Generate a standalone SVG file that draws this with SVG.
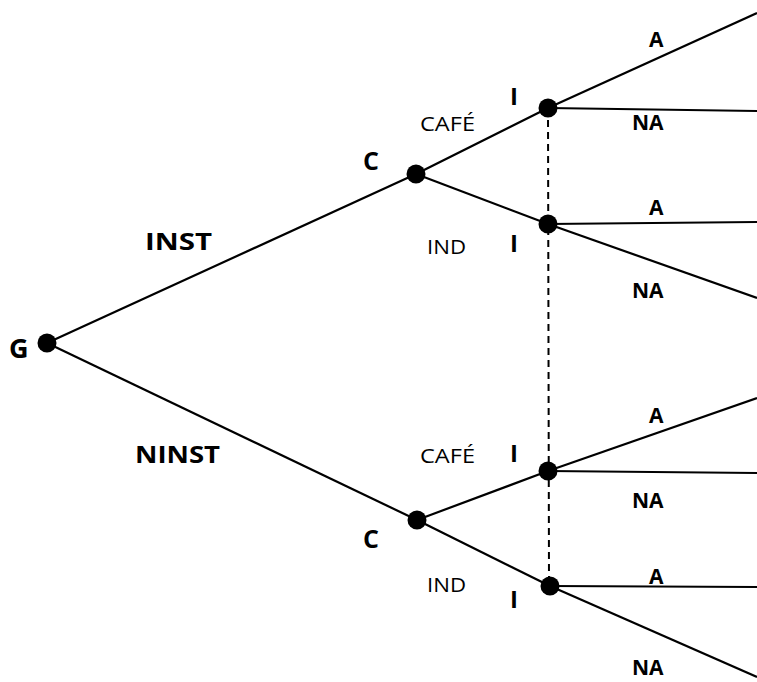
<svg xmlns="http://www.w3.org/2000/svg" width="757" height="682" viewBox="0 0 757 682">
<style>
.e{stroke:#000;stroke-width:2.2;fill:none}
.d{stroke:#000;stroke-width:2;stroke-dasharray:7,5;fill:none}
.n{fill:#000}
.b{font-family:"Open Sans","Liberation Sans",sans-serif;font-weight:bold;fill:#000}
.r{font-family:"Open Sans","Liberation Sans",sans-serif;fill:#000}
</style>
<rect width="757" height="682" fill="#fff"/>
<g id="connectors">
<line class="d" x1="548" y1="108" x2="549" y2="586"/>
<line class="e" x1="47" y1="343" x2="416" y2="174"/>
<line class="e" x1="47" y1="343" x2="417" y2="520"/>
<line class="e" x1="416" y1="174" x2="548" y2="108"/>
<line class="e" x1="416" y1="174" x2="548" y2="224"/>
<line class="e" x1="417" y1="520" x2="548" y2="471"/>
<line class="e" x1="417" y1="520" x2="550" y2="586"/>
<line class="e" x1="548" y1="108" x2="757" y2="13"/>
<line class="e" x1="548" y1="108" x2="757" y2="111"/>
<line class="e" x1="548" y1="224" x2="757" y2="222"/>
<line class="e" x1="548" y1="224" x2="757" y2="298"/>
<line class="e" x1="548" y1="471" x2="757" y2="398"/>
<line class="e" x1="548" y1="471" x2="757" y2="473"/>
<line class="e" x1="550" y1="586" x2="757" y2="587"/>
<line class="e" x1="550" y1="586" x2="757" y2="677"/>
</g>
<g id="edge-labels">
<text class="b" x="145" y="250" font-size="24" textLength="67" lengthAdjust="spacingAndGlyphs">INST</text>
<text class="b" x="135" y="463" font-size="24" textLength="85" lengthAdjust="spacingAndGlyphs">NINST</text>
<text class="r" x="420" y="131" font-size="19.5" textLength="55" lengthAdjust="spacingAndGlyphs">CAFÉ</text>
<text class="r" x="427" y="254" font-size="19.5" textLength="39" lengthAdjust="spacingAndGlyphs">IND</text>
<text class="r" x="420" y="463" font-size="19.5" textLength="55" lengthAdjust="spacingAndGlyphs">CAFÉ</text>
<text class="r" x="427" y="592" font-size="19.5" textLength="39" lengthAdjust="spacingAndGlyphs">IND</text>
<text class="b" x="649" y="47" font-size="21">A</text>
<text class="b" x="632" y="130" font-size="21">NA</text>
<text class="b" x="649" y="215" font-size="21">A</text>
<text class="b" x="632" y="298" font-size="21">NA</text>
<text class="b" x="649" y="423" font-size="21">A</text>
<text class="b" x="632" y="508" font-size="21">NA</text>
<text class="b" x="649" y="584" font-size="21">A</text>
<text class="b" x="632" y="675" font-size="21">NA</text>
</g>
<g id="node-G"><circle class="n" cx="47" cy="343" r="9.5"/><text class="b" x="9" y="358" font-size="27">G</text></g>
<g id="node-C1"><circle class="n" cx="416" cy="174" r="9.5"/><text class="b" x="363" y="170" font-size="25">C</text></g>
<g id="node-C2"><circle class="n" cx="417" cy="520" r="9.5"/><text class="b" x="363" y="548" font-size="25">C</text></g>
<g id="node-I1"><circle class="n" cx="548" cy="108" r="9.5"/><text class="b" x="510" y="105" font-size="24">I</text></g>
<g id="node-I2"><circle class="n" cx="548" cy="224" r="9.5"/><text class="b" x="510" y="252" font-size="24">I</text></g>
<g id="node-I3"><circle class="n" cx="548" cy="471" r="9.5"/><text class="b" x="510" y="462" font-size="24">I</text></g>
<g id="node-I4"><circle class="n" cx="550" cy="586" r="9.5"/><text class="b" x="510" y="608" font-size="24">I</text></g>
</svg>
